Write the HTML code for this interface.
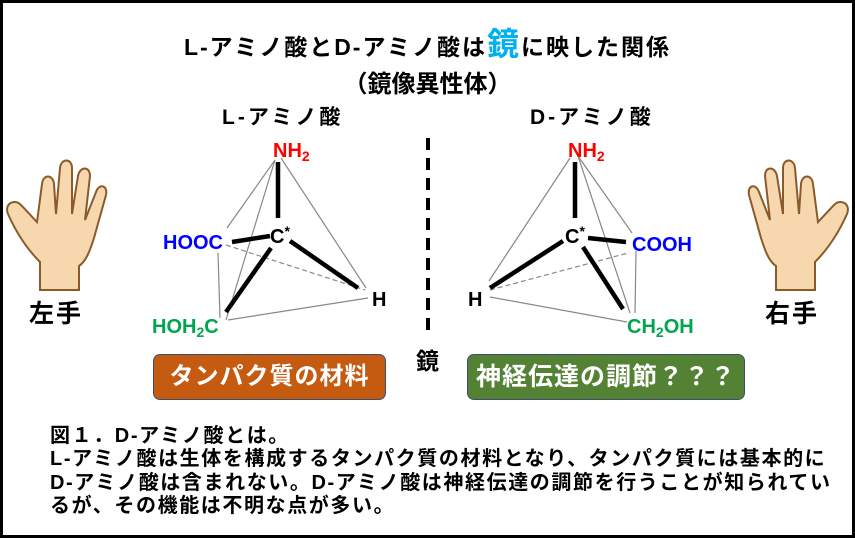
<!DOCTYPE html>
<html><head><meta charset="utf-8"><style>
body{margin:0;width:855px;height:538px;overflow:hidden;background:#fff;font-family:"Liberation Sans","Noto Sans CJK JP",sans-serif}
.f{position:absolute;left:0;top:0;width:849px;height:532px;border:3px solid #000}
.t{position:absolute;white-space:nowrap;font-weight:bold}
.box{position:absolute;height:44px;border:1.5px solid #3b4f6b;border-radius:7px;color:#fff;font-size:24px;font-weight:bold;text-align:center;line-height:44px;letter-spacing:1px}
</style></head><body>
<div class="f"></div>
<div class="t" style="left:0;width:855px;text-align:center;top:28px;font-size:23px;letter-spacing:2px;line-height:32px">L-アミノ酸とD-アミノ酸は<span style="color:#00b0f0;font-size:32px">鏡</span>に映した関係</div>
<div class="t" style="left:0;width:855px;text-align:center;top:64px;font-size:24px">（鏡像異性体）</div>
<div class="t" style="left:222px;top:101px;font-size:21px;letter-spacing:3px">L-アミノ酸</div>
<div class="t" style="left:530px;top:101px;font-size:21px;letter-spacing:3px">D-アミノ酸</div>
<svg width="855" height="538" style="position:absolute;left:0;top:0" font-family="Liberation Sans" font-weight="bold">
<g stroke="#888" stroke-width="1.2" fill="none">
<line x1="275" y1="160" x2="227" y2="228"/><line x1="275" y1="160" x2="226" y2="320"/><line x1="281" y1="158" x2="366" y2="288"/>
<line x1="218" y1="253" x2="220" y2="318"/><line x1="228" y1="320" x2="368" y2="298"/>
<line x1="226" y1="245" x2="365" y2="290" stroke-dasharray="5,3"/>
<line x1="570" y1="158" x2="489" y2="281"/><line x1="578" y1="156" x2="632" y2="233"/><line x1="578" y1="156" x2="630" y2="313"/>
<line x1="636" y1="251" x2="635" y2="313"/><line x1="490" y1="297" x2="627" y2="322"/>
<line x1="490" y1="290" x2="628" y2="253" stroke-dasharray="5,3"/>
</g>
<g stroke="#000" stroke-width="4.5">
<line x1="278" y1="162" x2="278" y2="218"/><line x1="232" y1="242" x2="270" y2="236"/><line x1="271" y1="248" x2="226" y2="312"/><line x1="290" y1="241" x2="358" y2="288"/>
<line x1="575" y1="162" x2="575" y2="218"/><line x1="588" y1="238" x2="626" y2="242"/><line x1="563" y1="241" x2="490" y2="288"/><line x1="583" y1="247" x2="623" y2="309"/>
<line x1="428" y1="138" x2="428" y2="338" stroke-dasharray="12,8" stroke-width="4"/>
</g>
<g font-size="20">
<text x="273" y="157" fill="#ff0000">NH<tspan font-size="14" dy="4">2</tspan></text>
<text x="270" y="243" fill="#000">C<tspan font-size="14" dy="-7">*</tspan></text>
<text x="163" y="249" fill="#0000ff">HOOC</text>
<text x="372" y="306" fill="#000">H</text>
<text x="152" y="333" fill="#00a550">HOH<tspan font-size="14" dy="4">2</tspan><tspan dy="-4">C</tspan></text>
<text x="568" y="157" fill="#ff0000">NH<tspan font-size="14" dy="4">2</tspan></text>
<text x="565" y="243" fill="#000">C<tspan font-size="14" dy="-7">*</tspan></text>
<text x="632" y="251" fill="#0000ff">COOH</text>
<text x="468" y="306" fill="#000">H</text>
<text x="627" y="333" fill="#00a550">CH<tspan font-size="14" dy="4">2</tspan><tspan dy="-4">OH</tspan></text>
</g>
<g fill="#f6d7ae" stroke="#8a5a2b" stroke-width="2">
<path d="M40 290 L40 262 C26 248 16 232 8 214 C4 204 14 198 21 205 L37 222 L42 184 C43 174 53 174 54 184 L56 214 L60 168 C61 158 72 158 72 168 L72 214 L78 176 C80 166 90 166 90 176 L85 220 L96 192 C99 183 108 185 106 195 L94 238 C89 254 85 262 79 266 L79 290 Z"/>
<path d="M815 290 L815 262 C829 248 839 232 847 214 C851 204 841 198 834 205 L818 222 L813 184 C812 174 802 174 801 184 L799 214 L795 168 C794 158 783 158 783 168 L783 214 L777 176 C775 166 765 166 765 176 L770 220 L759 192 C756 183 747 185 749 195 L761 238 C766 254 770 262 776 266 L776 290 Z"/>
</g>
</svg>
<div class="t" style="left:29px;top:294px;font-size:25px;letter-spacing:2px">左手</div>
<div class="t" style="left:765px;top:294px;font-size:25px;letter-spacing:2px">右手</div>
<div class="t" style="left:416px;top:342px;font-size:23px">鏡</div>
<div class="box" style="left:153px;top:354px;width:231px;background:#c55a11">タンパク質の材料</div>
<div class="box" style="left:467px;top:354px;width:276px;background:#548235;font-size:25px">神経伝達の調節？？？</div>
<div class="t" style="left:50px;top:425px;font-size:20px;letter-spacing:1.6px;line-height:23.3px">図１．D-アミノ酸とは。<br>L-アミノ酸は生体を構成するタンパク質の材料となり、タンパク質には基本的に<br>D-アミノ酸は含まれない。D-アミノ酸は神経伝達の調節を行うことが知られてい<br>るが、その機能は不明な点が多い。</div>
</body></html>
